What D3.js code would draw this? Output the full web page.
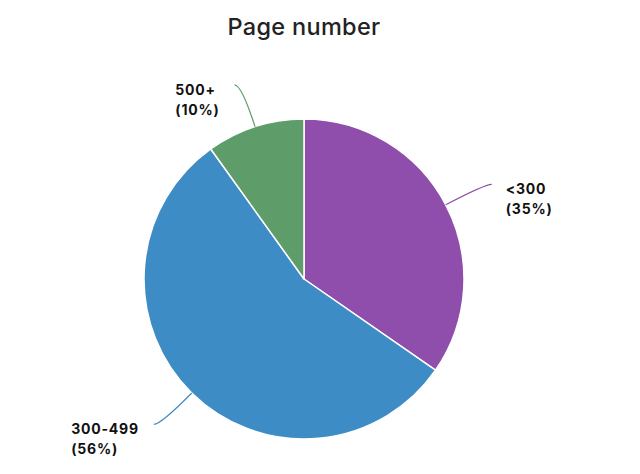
<!DOCTYPE html>
<html><head><meta charset="utf-8">
<script src="https://cdn.jsdelivr.net/npm/d3@7"></script>
<style>body{margin:0;background:#fff}svg{display:block}</style>
</head><body>
<svg id="chart" width="640" height="474"></svg>
<script>
const categories = ["<300", "300-499", "500+"];
const values = [35, 56, 10];
const percentLabels = ["35%", "56%", "10%"];
const colors = ["#8f4eab", "#3d8cc5", "#5e9c69"];
const title = "Page number";

const W = 640, H = 474, cx = 304, cy = 279, R = 160;
const svg = d3.select("#chart");
const font = "Inter, 'Open Sans', sans-serif";

svg.append("text").attr("x", 304).attr("y", 35).attr("text-anchor", "middle")
  .attr("font-family", font).attr("font-weight", 500).attr("font-size", 23.5)
  .attr("letter-spacing", 0.3)
  .attr("fill", "#222").text(title);

const pie = d3.pie().sort(null).value(d => d.v);
const data = categories.map((c, i) => ({c, v: values[i], p: percentLabels[i], col: colors[i]}));
const arcs = pie(data);
const arc = d3.arc().innerRadius(0).outerRadius(R);
const g = svg.append("g").attr("transform", `translate(${cx},${cy})`);

g.selectAll("path.slice").data(arcs).join("path").attr("class", "slice")
  .attr("d", arc).attr("fill", d => d.data.col)
  .attr("stroke", "#fff").attr("stroke-width", 1.5).attr("stroke-linejoin", "round");

arcs.forEach(a => {
  const m = (a.startAngle + a.endAngle) / 2;
  const pt = r => [r * Math.sin(m), -r * Math.cos(m)];
  const s = pt(R), e = pt(R + 44);
  const side = Math.sin(m) >= 0 ? 1 : -1;
  const end = [e[0] + side * 7, e[1]];
  const path = d3.path();
  path.moveTo(s[0], s[1]);
  path.quadraticCurveTo(e[0], e[1], end[0], end[1]);
  g.append("path").attr("d", path.toString()).attr("fill", "none")
    .attr("stroke", a.data.col).attr("stroke-width", 1.2);
  const t = g.append("text").attr("font-family", font).attr("font-weight", 700)
    .attr("font-size", 14).attr("letter-spacing", 0.8).attr("fill", "#111");
  t.append("tspan").attr("x", 0).attr("y", end[1] + 10).text(a.data.c);
  t.append("tspan").attr("x", 0).attr("y", end[1] + 30).text("(" + a.data.p + ")");
  const w = t.node().getBBox().width;
  const x = side > 0 ? end[0] + 14 : end[0] - 15 - w;
  t.selectAll("tspan").attr("x", x);
});
</script>
</body></html>
